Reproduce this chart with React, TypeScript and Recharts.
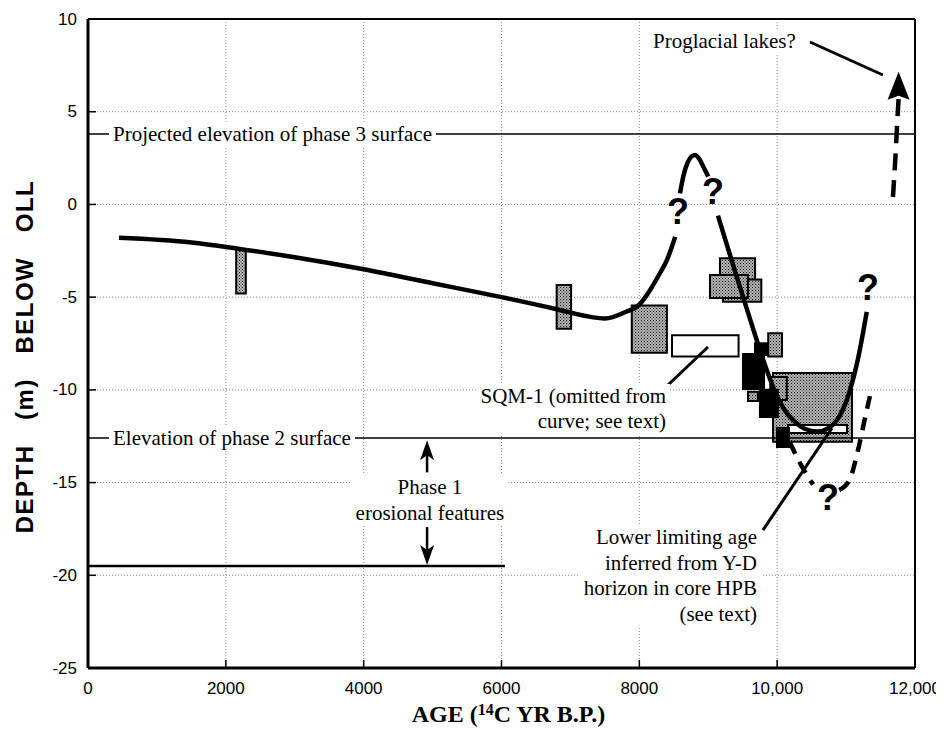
import {
  ComposedChart,
  XAxis,
  YAxis,
  CartesianGrid,
  Line,
  Scatter,
  ReferenceArea,
  ReferenceLine,
} from "recharts";

const X_TICKS = [0, 2000, 4000, 6000, 8000, 10000, 12000];
const Y_TICKS = [10, 5, 0, -5, -10, -15, -20, -25];

// age-depth curve, broken where the "?" marks sit
const CURVE_LOW = [
  { x: 450, y: -1.8 }, { x: 1500, y: -2.05 }, { x: 2200, y: -2.4 }, { x: 3000, y: -2.85 },
  { x: 4000, y: -3.5 }, { x: 5000, y: -4.25 }, { x: 6000, y: -5.0 }, { x: 6800, y: -5.65 },
  { x: 7200, y: -6.0 }, { x: 7500, y: -6.15 }, { x: 7800, y: -5.8 }, { x: 8000, y: -5.4 },
  { x: 8150, y: -4.65 }, { x: 8300, y: -3.7 }, { x: 8400, y: -3.0 }, { x: 8520, y: -1.75 },
];
const CURVE_PEAK = [
  { x: 8590, y: 0.6 }, { x: 8640, y: 1.55 }, { x: 8700, y: 2.25 }, { x: 8760, y: 2.6 },
  { x: 8810, y: 2.67 }, { x: 8870, y: 2.45 }, { x: 8940, y: 1.95 }, { x: 9000, y: 1.5 },
];
const CURVE_FALL = [
  { x: 9140, y: -0.6 }, { x: 9400, y: -3.75 }, { x: 9650, y: -6.7 }, { x: 9850, y: -8.95 },
  { x: 9980, y: -10.2 }, { x: 10100, y: -11.05 }, { x: 10250, y: -11.7 }, { x: 10400, y: -12.1 },
  { x: 10580, y: -12.25 }, { x: 10750, y: -12.05 }, { x: 10900, y: -11.45 }, { x: 11050, y: -10.1 },
  { x: 11180, y: -8.2 }, { x: 11300, y: -5.8 },
];
const DASH_LEFT = [
  { x: 10180, y: -12.8 }, { x: 10290, y: -13.65 }, { x: 10400, y: -14.4 }, { x: 10520, y: -15.1 },
];
const DASH_RIGHT = [
  { x: 10900, y: -15.4 }, { x: 11050, y: -14.85 }, { x: 11170, y: -13.3 }, { x: 11270, y: -11.6 },
  { x: 11360, y: -10.1 },
];
const LAKES_SHAFT = [
  { x: 11680, y: 0.4 }, { x: 11715, y: 2.5 }, { x: 11745, y: 4.6 }, { x: 11762, y: 5.7 },
];
const QUESTION_MARKS = [
  { x: 8561, y: -0.4 }, { x: 9069, y: 0.7 }, { x: 11318, y: -4.5 }, { x: 10737, y: -15.8 },
];

// dated samples: [x1, x2, yTop, yBottom]
const GREY_BOXES = [
  [2150, 2290, -2.4, -4.8],
  [6800, 7010, -4.35, -6.7],
  [7890, 8400, -5.45, -8.0],
  [9170, 9680, -2.9, -4.3],
  [9215, 9770, -4.05, -5.25],
  [9025, 9575, -3.8, -5.05],
  [9870, 10070, -6.95, -8.2],
  [9576, 9721, -10.1, -10.6],
  [9940, 11086, -9.09, -12.8],
  [9900, 10140, -9.3, -10.55],
];
const WHITE_BOXES = [
  [8474, 9440, -7.05, -8.2],
  [10157, 11013, -11.9, -12.33],
];
const BLACK_BOXES = [
  [9678, 9852, -7.48, -8.12],
  [9504, 9809, -8.07, -9.96],
  [9750, 10010, -10.0, -11.47],
  [9997, 10171, -12.06, -13.08],
];

const PHASE3_Y = 3.8;
const PHASE2_Y = -12.6;
const PHASE1_SEG = [{ x: 0, y: -19.5 }, { x: 6050, y: -19.5 }];
const POINTERS = [
  [{ x: 8416, y: -9.74 }, { x: 8996, y: -7.69 }],
  [{ x: 9794, y: -17.56 }, { x: 10795, y: -12.06 }],
  [{ x: 10476, y: 8.76 }, { x: 11535, y: 6.98 }],
];
const PHASE1_SHAFTS = [
  [{ x: 4920, y: -14.45 }, { x: 4920, y: -13.3 }],
  [{ x: 4920, y: -17.4 }, { x: 4920, y: -18.9 }],
];
const ARROW_UP = [{ x: 4920, y: -12.72 }];
const ARROW_DOWN = [{ x: 4920, y: -19.45 }];
const LAKES_HEAD = [{ x: 11762, y: 7.15 }];

const NOTES_START = [
  { x: 363, y: PHASE3_Y, lines: ["Projected elevation of phase 3 surface"] },
  { x: 363, y: PHASE2_Y, lines: ["Elevation of phase 2 surface"] },
  { x: 8198, y: 8.8, lines: ["Proglacial lakes?"] },
];
const NOTES_MIDDLE = [{ x: 4962, y: -15.24, lines: ["Phase 1", "erosional features"] }];
const NOTES_END = [
  { x: 8387, y: -10.33, lines: ["SQM-1 (omitted from", "curve; see text)"] },
  { x: 9707, y: -17.94, lines: ["Lower limiting age", "inferred from Y-D", "horizon in core HPB", "(see text)"] },
];

const SERIF = "'Liberation Serif', 'Times New Roman', Times, serif";
const SANS = "'Liberation Sans', Arial, Helvetica, sans-serif";
const NOTE_SIZE = 21;
const LINE_H = 25.5;
const TICK_GAP = 11;

const ctx = typeof document !== "undefined" ? document.createElement("canvas").getContext("2d") : null;
function measure(s: string) {
  if (!ctx) return s.length * NOTE_SIZE * 0.45;
  ctx.font = `${NOTE_SIZE}px 'Liberation Serif'`;
  return ctx.measureText(s).width;
}

const makeNote = (anchor: "start" | "middle" | "end") => (p: any) => {
  const lines: string[] = p.payload.lines;
  const w = Math.max(...lines.map(measure));
  const pad = 4;
  const left = anchor === "start" ? p.cx : anchor === "end" ? p.cx - w : p.cx - w / 2;
  return (
    <g>
      <rect
        x={left - pad}
        y={p.cy - 12}
        width={w + pad * 2}
        height={(lines.length - 1) * LINE_H + 24}
        fill="#fff"
      />
      {lines.map((s, i) => (
        <text
          key={i}
          x={p.cx}
          y={p.cy + i * LINE_H}
          textAnchor={anchor}
          dominantBaseline="central"
          fontFamily={SERIF}
          fontSize={NOTE_SIZE}
          fill="#000"
        >
          {s}
        </text>
      ))}
    </g>
  );
};

const QMark = (p: any) => (
  <text
    x={p.cx}
    y={p.cy}
    textAnchor="middle"
    dominantBaseline="central"
    fontFamily={SANS}
    fontWeight="bold"
    fontSize={36}
    fill="#000"
  >
    ?
  </text>
);

const Head = (dir: 1 | -1, w: number, h: number, notch: number) => (p: any) => (
  <polygon
    points={`${p.cx},${p.cy} ${p.cx - w / 2},${p.cy + dir * h} ${p.cx},${p.cy + dir * notch} ${p.cx + w / 2},${p.cy + dir * h}`}
    fill="#000"
  />
);

const XTick = (p: any) => {
  const v = p.payload.value;
  const axisY = p.y - 8;
  return (
    <g>
      <line x1={p.x} x2={p.x} y1={axisY} y2={axisY - 8} stroke="#000" strokeWidth={1.5} />
      <text x={p.x} y={axisY + 26} textAnchor="middle" fontFamily={SANS} fontSize={17} fill="#000">
        {v >= 10000 ? v.toLocaleString("en-US") : String(v)}
      </text>
    </g>
  );
};

const YTick = (p: any) => {
  const axisX = p.x + TICK_GAP;
  return (
    <g>
      <line x1={axisX} x2={axisX + 8} y1={p.y} y2={p.y} stroke="#000" strokeWidth={1.5} />
      <text x={p.x} y={p.y} textAnchor="end" dominantBaseline="central" fontFamily={SANS} fontSize={17} fill="#000">
        {p.payload.value}
      </text>
    </g>
  );
};

const XTitle = (p: any) => {
  const vb = p.viewBox;
  return (
    <text
      x={vb.x + vb.width / 2 + 7}
      y={vb.y + 54}
      textAnchor="middle"
      fontFamily={SERIF}
      fontWeight="bold"
      fontSize={24}
      fill="#000"
    >
      AGE (<tspan fontSize={16} dy={-7}>14</tspan>
      <tspan dy={7}>C YR B.P.)</tspan>
    </text>
  );
};

const YTitle = (p: any) => {
  const vb = p.viewBox;
  const cx = vb.x + 16;
  const cy = vb.y + vb.height / 2 + 13;
  return (
    <text
      x={cx}
      y={cy}
      transform={`rotate(-90 ${cx} ${cy})`}
      textAnchor="middle"
      dominantBaseline="central"
      fontFamily={SANS}
      fontWeight="bold"
      fontSize={24}
      letterSpacing={1.5}
      fill="#000"
      style={{ whiteSpace: "pre" }}
    >
      {"DEPTH   (m)   BELOW   OLL"}
    </text>
  );
};

const box = (b: number[], fill: string, stroke: string, key: string) => (
  <ReferenceArea
    key={key}
    x1={b[0]}
    x2={b[1]}
    y1={b[2]}
    y2={b[3]}
    fill={fill}
    fillOpacity={1}
    stroke={stroke}
    strokeWidth={2}
    ifOverflow="visible"
  />
);

const curve = (data: { x: number; y: number }[], dash?: string) => (
  <Line
    data={data}
    dataKey="y"
    type="monotone"
    stroke="#000"
    strokeWidth={4.5}
    strokeDasharray={dash}
    dot={false}
    activeDot={false}
    isAnimationActive={false}
  />
);

export default function App() {
  return (
    <div style={{ width: 936, height: 723 }}>
      <ComposedChart width={936} height={723} margin={{ top: 11, right: 29, left: 0, bottom: 33 }}>
        <defs>
          <pattern id="stipple" width="3" height="3" patternUnits="userSpaceOnUse">
            <rect width="3" height="3" fill="#b4b4b4" />
            <rect width="1" height="1" fill="#111" />
            <rect x="1.5" y="1.5" width="1" height="1" fill="#333" />
          </pattern>
        </defs>
        <CartesianGrid stroke="#8a8a8a" strokeDasharray="1 2" />
        <XAxis
          type="number"
          dataKey="x"
          domain={[0, 12000]}
          ticks={X_TICKS}
          allowDataOverflow
          height={30}
          axisLine={{ stroke: "#000", strokeWidth: 3 }}
          tickLine={false}
          tickSize={0}
          tickMargin={8}
          tick={XTick}
          label={XTitle}
        />
        <YAxis
          type="number"
          dataKey="y"
          domain={[-25, 10]}
          ticks={Y_TICKS}
          allowDataOverflow
          width={80}
          axisLine={{ stroke: "#000", strokeWidth: 3 }}
          tickLine={false}
          tickSize={0}
          tickMargin={TICK_GAP}
          tick={YTick}
          label={YTitle}
        />
        <ReferenceLine y={10} stroke="#000" strokeWidth={2} />
        <ReferenceLine x={12000} stroke="#000" strokeWidth={2} />

        {GREY_BOXES.map((b, i) => box(b, "url(#stipple)", "#000", `g${i}`))}
        {WHITE_BOXES.map((b, i) => box(b, "#fff", "#000", `w${i}`))}
        {BLACK_BOXES.map((b, i) => box(b, "#000", "#000", `k${i}`))}

        <ReferenceLine y={PHASE3_Y} stroke="#000" strokeWidth={1.5} />
        <ReferenceLine y={PHASE2_Y} stroke="#000" strokeWidth={1.5} />
        <ReferenceLine segment={PHASE1_SEG} stroke="#000" strokeWidth={2.5} />
        {POINTERS.map((s, i) => (
          <ReferenceLine key={`p${i}`} segment={s} stroke="#000" strokeWidth={3} />
        ))}
        {PHASE1_SHAFTS.map((s, i) => (
          <ReferenceLine key={`s${i}`} segment={s} stroke="#000" strokeWidth={2.5} />
        ))}

        {curve(CURVE_LOW)}
        {curve(CURVE_PEAK)}
        {curve(CURVE_FALL)}
        {curve(DASH_LEFT, "13 9")}
        {curve(DASH_RIGHT, "13 9")}
        {curve(LAKES_SHAFT, "17 10")}

        <Scatter data={NOTES_START} dataKey="y" shape={makeNote("start")} isAnimationActive={false} />
        <Scatter data={NOTES_MIDDLE} dataKey="y" shape={makeNote("middle")} isAnimationActive={false} />
        <Scatter data={NOTES_END} dataKey="y" shape={makeNote("end")} isAnimationActive={false} />
        <Scatter data={QUESTION_MARKS} dataKey="y" shape={QMark} isAnimationActive={false} />
        <Scatter data={ARROW_UP} dataKey="y" shape={Head(1, 14, 20, 15)} isAnimationActive={false} />
        <Scatter data={ARROW_DOWN} dataKey="y" shape={Head(-1, 14, 20, 15)} isAnimationActive={false} />
        <Scatter data={LAKES_HEAD} dataKey="y" shape={Head(1, 22, 28, 24)} isAnimationActive={false} />
      </ComposedChart>
    </div>
  );
}
